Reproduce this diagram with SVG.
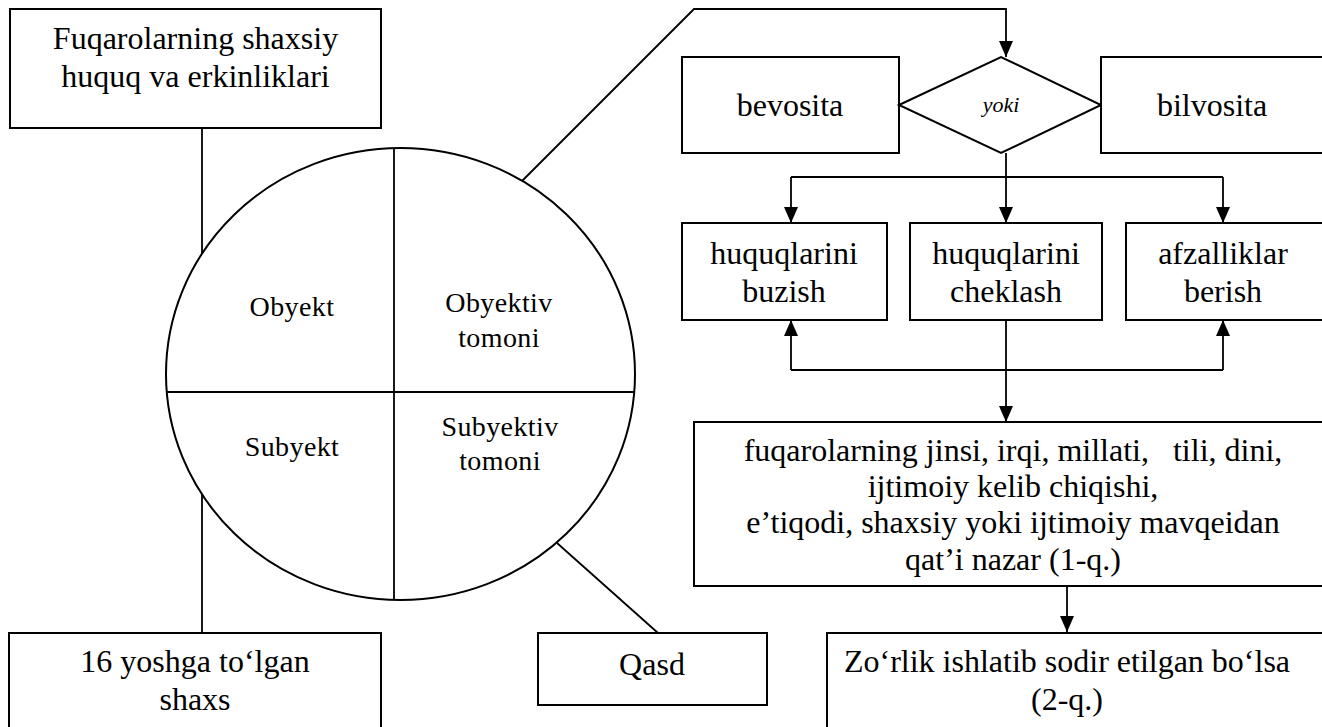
<svg xmlns="http://www.w3.org/2000/svg" width="1322" height="727" viewBox="0 0 1322 727">
<style>
.box{fill:#fff;stroke:#000;stroke-width:2}
.ln{fill:none;stroke:#000;stroke-width:1.8}
.t{font-family:"Liberation Serif","Times New Roman",serif;font-size:32px;fill:#000;text-anchor:middle}
.e{font-family:"Liberation Serif","Times New Roman",serif;font-size:28px;letter-spacing:0.4px;fill:#000;text-anchor:middle}
.i{font-family:"Liberation Serif","Times New Roman",serif;font-size:22px;font-style:italic;fill:#000;text-anchor:middle}
</style>
<defs>
<marker id="ar" markerUnits="userSpaceOnUse" markerWidth="16" markerHeight="14" refX="16" refY="7" orient="auto">
<path d="M0,0 L16,7 L0,14 z" fill="#000"/>
</marker>
</defs>
<rect width="1322" height="727" fill="#fff"/>
<g id="connectors">
<line class="ln" x1="202" y1="128" x2="202" y2="254"/>
<line class="ln" x1="202" y1="494" x2="202" y2="633"/>
<line class="ln" x1="557" y1="543" x2="658" y2="633"/>
<polyline class="ln" points="520,183 694,9 1006,9 1006,57" marker-end="url(#ar)"/>
<line class="ln" x1="1006" y1="153" x2="1006" y2="177"/>
<line class="ln" x1="791" y1="177" x2="1223" y2="177"/>
<line class="ln" x1="791" y1="177" x2="791" y2="223" marker-end="url(#ar)"/>
<line class="ln" x1="1006" y1="177" x2="1006" y2="223" marker-end="url(#ar)"/>
<line class="ln" x1="1223" y1="177" x2="1223" y2="223" marker-end="url(#ar)"/>
<line class="ln" x1="1006" y1="320" x2="1006" y2="422" marker-end="url(#ar)"/>
<line class="ln" x1="791" y1="370" x2="1223" y2="370"/>
<line class="ln" x1="791" y1="370" x2="791" y2="320" marker-end="url(#ar)"/>
<line class="ln" x1="1223" y1="370" x2="1223" y2="320" marker-end="url(#ar)"/>
<line class="ln" x1="1067" y1="586" x2="1067" y2="632" marker-end="url(#ar)"/>
</g>
<g id="n-fuqarolar">
<rect class="box" x="10" y="9" width="371" height="119"/>
<text class="t" x="195.5" y="49">Fuqarolarning shaxsiy</text>
<text class="t" x="195.5" y="87">huquq va erkinliklari</text>
</g>
<g id="n-ellipse">
<ellipse class="box" cx="400.5" cy="374" rx="234.5" ry="226"/>
<line class="ln" x1="394" y1="148" x2="394" y2="600"/>
<line class="ln" x1="166" y1="392" x2="635" y2="392"/>
<text class="e" x="292" y="316">Obyekt</text>
<text class="e" x="499" y="312">Obyektiv</text>
<text class="e" x="499" y="347">tomoni</text>
<text class="e" x="292" y="456">Subyekt</text>
<text class="e" x="500" y="436">Subyektiv</text>
<text class="e" x="500" y="470">tomoni</text>
</g>
<g id="n-bevosita">
<rect class="box" x="682" y="57" width="217" height="96"/>
<text class="t" x="790" y="116">bevosita</text>
</g>
<g id="n-yoki">
<polygon class="box" points="899,105 1001,57 1101,105 1001,153"/>
<text class="i" x="1001" y="112">yoki</text>
</g>
<g id="n-bilvosita">
<rect class="box" x="1101" y="57" width="235" height="96"/>
<text class="t" x="1212" y="116">bilvosita</text>
</g>
<g id="n-buzish">
<rect class="box" x="682" y="223" width="205" height="97"/>
<text class="t" x="784" y="264">huquqlarini</text>
<text class="t" x="784" y="302">buzish</text>
</g>
<g id="n-cheklash">
<rect class="box" x="910" y="223" width="192" height="97"/>
<text class="t" x="1006" y="264">huquqlarini</text>
<text class="t" x="1006" y="302">cheklash</text>
</g>
<g id="n-afzallik">
<rect class="box" x="1126" y="223" width="210" height="97"/>
<text class="t" x="1223" y="264">afzalliklar</text>
<text class="t" x="1223" y="302">berish</text>
</g>
<g id="n-fuq-jinsi">
<rect class="box" x="694" y="422" width="642" height="164"/>
<text class="t" x="1013" y="461" xml:space="preserve">fuqarolarning jinsi, irqi, millati,   tili, dini,</text>
<text class="t" x="1013" y="497">ijtimoiy kelib chiqishi,</text>
<text class="t" x="1013" y="533">e’tiqodi, shaxsiy yoki ijtimoiy mavqeidan</text>
<text class="t" x="1013" y="570">qat’i nazar (1-q.)</text>
</g>
<g id="n-16yosh">
<rect class="box" x="9" y="633" width="372" height="110"/>
<text class="t" x="195" y="672">16 yoshga to‘lgan</text>
<text class="t" x="195" y="710">shaxs</text>
</g>
<g id="n-qasd">
<rect class="box" x="538" y="633" width="229" height="72"/>
<text class="t" x="652" y="675">Qasd</text>
</g>
<g id="n-zorlik">
<rect class="box" x="827" y="633" width="509" height="110"/>
<text class="t" x="1067" y="672">Zo‘rlik ishlatib sodir etilgan bo‘lsa</text>
<text class="t" x="1067" y="710">(2-q.)</text>
</g>
</svg>
